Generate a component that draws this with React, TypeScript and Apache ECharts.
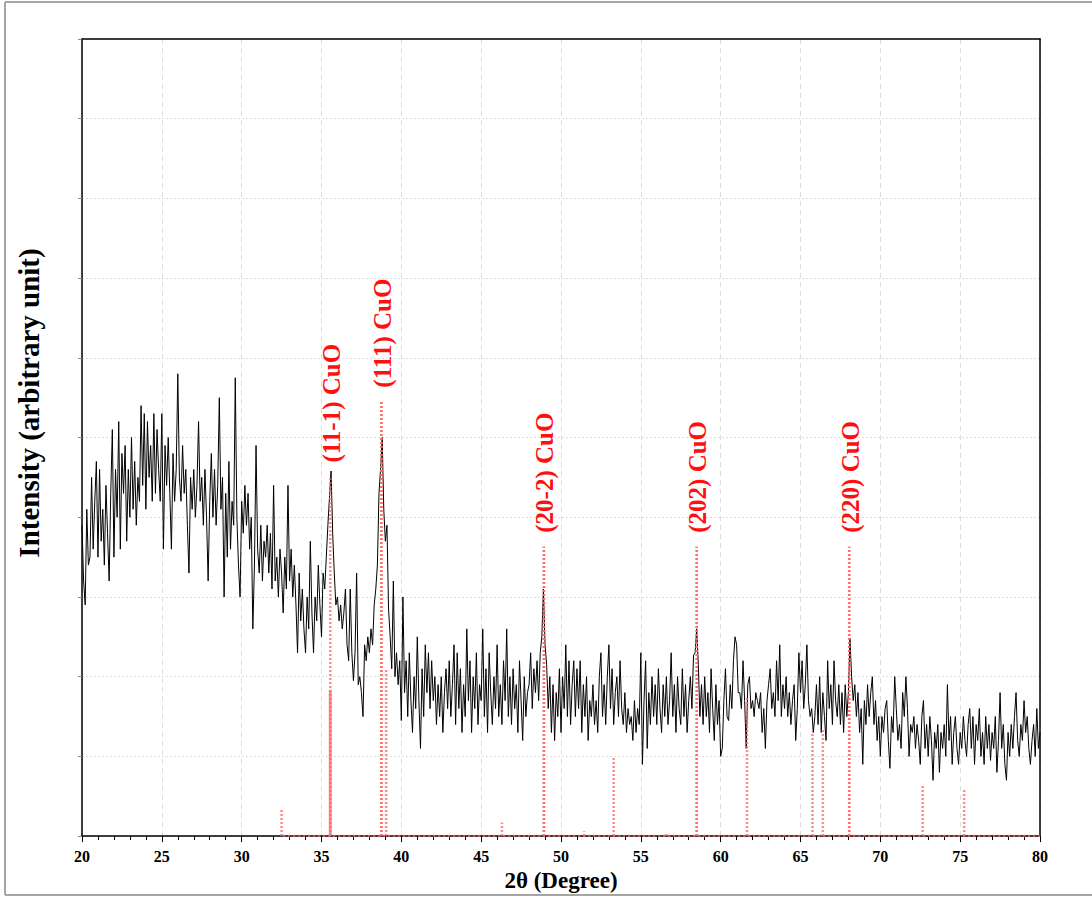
import { useEffect, useRef } from "react";
import * as echarts from "echarts";

// Diffractogram sampled from 20° to 80° in 0.1° steps (arbitrary intensity units)
const TWO_THETA_START = 20;
const TWO_THETA_STEP = 0.1;

const intensity20s = [
  3.9, 3.2, 2.9, 4.1, 3.4, 3.5, 4.5, 3.6, 4.2, 4.7,
  3.5, 4.6, 3.7, 4.1, 3.4, 4.4, 3.8, 3.2, 4.3, 5.1,
  3.5, 4.6, 4.0, 5.2, 3.6, 4.8, 4.3, 4.9, 3.7, 4.6,
  4.0, 5.0, 4.1, 4.7, 3.9, 4.5, 4.2, 5.4, 4.4, 5.3,
  4.1, 5.2, 4.5, 4.9, 4.2, 5.3, 4.3, 5.1, 4.6, 4.2,
  5.3, 3.6, 4.9, 4.4, 5.0, 4.3, 3.6, 4.8, 4.2, 4.6,
  5.8, 4.5, 4.2, 4.9, 4.3, 4.6, 3.9, 3.3, 4.5, 4.1,
  4.6, 4.0, 4.4, 5.2, 4.2, 4.5, 3.9, 4.6, 4.0, 3.2,
  4.2, 4.8, 4.0, 4.6, 3.9, 4.4, 5.5, 4.1, 4.5, 3.0,
  4.3, 3.5, 4.7, 3.6, 4.2, 3.9, 5.75, 4.0, 3.4, 3.0,
];
const intensity30s = [
  4.2, 3.8, 4.4, 3.9, 4.3, 3.6, 4.0, 2.6, 3.4, 4.9,
  3.6, 3.3, 3.9, 3.2, 3.7, 3.5, 3.9, 3.3, 3.8, 3.1,
  4.4, 3.2, 3.5, 3.0, 3.6, 3.3, 2.8, 3.5, 3.1, 4.4,
  3.2, 3.6, 3.0, 3.4, 2.9, 2.3, 3.3, 2.7, 3.1, 2.6,
  2.3, 3.0, 2.6, 3.7, 2.8, 2.3, 3.0, 2.7, 3.4, 2.9,
  2.5, 3.3, 3.1, 3.5, 3.9, 4.25, 4.58, 3.8, 3.3, 2.9,
  3.0, 2.7, 2.9, 2.6, 2.8, 3.1, 2.4, 2.2, 3.1, 2.3,
  1.95, 2.3, 3.3, 1.9, 2.0, 1.8, 1.5, 2.4, 2.2, 2.5,
  2.3, 2.6, 2.4, 2.9, 3.1, 3.4, 4.3, 4.6, 5.0, 4.1,
  3.7, 3.9, 2.85, 2.5, 2.1, 3.2, 2.0, 2.3, 1.9, 2.2,
];
const intensity40s = [
  1.45, 3.0, 1.8, 2.2, 1.5, 2.3, 1.7, 1.3, 2.0, 1.6,
  2.5, 1.7, 1.1, 2.1, 1.5, 2.4, 1.8, 2.3, 1.6, 2.2,
  1.7, 2.0, 1.4, 1.9, 1.5, 2.0, 1.3, 1.8, 2.1, 1.6,
  2.2, 1.5, 1.9, 2.4, 1.4, 2.3, 1.6, 2.1, 1.3, 1.9,
  1.5, 2.6, 1.7, 2.2, 1.3, 2.0, 1.6, 2.3, 1.4, 1.9,
  1.7, 2.6, 1.5, 2.1, 1.3, 2.3, 1.8, 1.4, 2.0, 1.6,
  2.4, 1.5, 1.9, 1.4, 2.2, 1.7, 2.6, 1.5, 2.0, 1.4,
  2.1, 1.6, 1.9, 1.3, 2.2, 1.7, 1.2, 2.0, 1.5, 1.8,
  1.9, 2.3, 1.6, 2.1, 1.8, 2.2, 1.7, 2.3, 2.5, 3.1,
  2.4, 2.15, 1.6, 2.0, 1.3, 1.9, 1.2, 1.8, 1.5, 2.1,
];
const intensity50s = [
  1.3, 2.0, 1.6, 2.4, 1.5, 2.2, 1.4, 1.9, 2.2, 1.5,
  2.1, 1.6, 2.2, 1.3, 1.9, 1.5, 2.0, 1.2, 1.7, 1.5,
  1.9, 1.4, 1.7, 1.3, 2.0, 2.3, 1.5, 1.9, 1.4, 2.0,
  2.4, 1.6, 2.1, 1.4, 1.8, 2.0, 1.5, 2.2, 1.6, 1.4,
  1.8, 1.3, 1.6, 1.4, 1.5, 1.2, 1.7, 1.3, 1.6, 1.4,
  2.3, 0.9, 1.7, 2.2, 1.1, 1.8, 1.4, 2.0, 1.5, 1.9,
  1.4, 2.1, 1.6, 1.3, 1.9, 1.5, 2.0, 1.4, 1.7, 2.3,
  1.5, 1.9, 1.3, 2.0, 1.6, 1.4, 2.1, 1.5, 1.9, 1.3,
  1.7, 2.0, 1.6, 2.27, 2.3, 2.6, 2.15, 1.5, 1.9, 1.4,
  2.0, 1.5, 1.8, 1.3, 2.1, 1.6, 1.2, 1.9, 1.4, 1.7,
];
const intensity60s = [
  1.0, 1.1, 1.7, 2.1, 1.5, 1.45, 1.9, 1.6, 2.2, 2.5,
  2.4, 1.8, 1.8, 1.6, 2.2, 1.7, 1.1, 1.9, 2.0, 1.6,
  1.7, 1.5, 1.8, 1.7, 1.6, 1.8, 1.3, 1.6, 1.1, 1.7,
  1.9, 2.1, 1.6, 1.8, 1.5, 2.2, 1.7, 2.4, 1.5, 1.9,
  1.6, 2.0, 1.5, 1.8, 1.4, 1.7, 1.9, 1.2, 1.6, 2.3,
  1.8, 2.2, 1.6, 1.9, 2.4, 1.7, 1.5, 1.6, 1.3, 1.5,
  1.9, 1.4, 2.0, 1.3, 1.8, 1.5, 1.2, 2.2, 1.6, 1.9,
  1.4, 2.2, 1.7, 1.5, 1.9, 1.4, 1.8, 1.3, 1.9, 1.5,
  1.8, 2.48, 2.0, 1.7, 1.9, 1.5, 1.8, 1.3, 1.6, 0.9,
  1.7, 1.4, 1.9, 1.5, 1.8, 2.0, 1.4, 1.7, 1.2, 1.5,
];
const intensity70s = [
  1.0, 1.5, 1.3, 1.6, 1.7, 1.2, 0.85, 1.5, 1.3, 2.0,
  1.6, 1.2, 1.4, 1.1, 1.8, 1.5, 2.0, 1.6, 1.0, 1.4,
  1.3, 1.5, 1.1, 1.4, 1.2, 0.9, 1.5, 1.7, 1.1, 1.4,
  1.0, 1.5, 1.2, 0.7, 1.3, 1.1, 1.4, 0.8, 1.3, 1.1,
  1.4, 1.0, 1.9, 1.2, 1.5, 0.9, 1.3, 1.5, 1.1, 0.9,
  1.3, 1.1, 1.5, 1.2, 1.0, 1.4, 1.6, 1.1, 1.5, 0.9,
  1.4, 1.2, 1.6, 1.0, 1.3, 0.9, 1.5, 1.1, 1.4, 0.95,
  1.3, 1.1, 1.5, 0.8, 1.2, 1.8, 1.1, 1.4, 0.9, 0.7,
  1.3, 1.0, 1.4, 1.1, 1.5, 1.8, 1.2, 1.0, 1.4, 1.2,
  1.7, 1.3, 1.5, 1.1, 0.9, 1.2, 1.4, 1.0, 1.6, 1.1,
  1.3,
];

// CuO reference pattern: stick positions (2θ) and relative heights
const refPositions = [32.5, 35.55, 38.75, 39.05, 46.3, 48.93, 51.45, 53.3, 56.6, 58.5, 61.65, 65.75, 66.4, 68.05, 72.65, 75.25];
const refHeights = [0.35, 1.83, 5.45, 2.1, 0.17, 3.63, 0.06, 1.0, 0.05, 3.63, 1.76, 1.3, 1.35, 3.63, 0.64, 0.58];
const refSolidPositions = [35.55];
const refBaselineRange = [32.6, 80];

// Indexed CuO reflections
const peakPositions = [35.55, 38.75, 48.93, 58.5, 68.05];
const peakLeaderTops = [4.51, 5.45, 3.63, 3.63, 3.63];
const peakLabels = ["(11-1) CuO", "(111) CuO", "(20-2) CuO", "(202) CuO", "(220) CuO"];

const xTickMin = 20;
const xTickMax = 80;
const xTickStep = 5;

const FONT = "'Liberation Serif', 'Times New Roman', serif";
const REF_RED = "rgba(255, 100, 100, 0.75)";

export default function App() {
  const ref = useRef<HTMLDivElement>(null);

  useEffect(() => {
    if (!ref.current) return;
    const chart = echarts.init(ref.current, null, { renderer: "svg" });

    const intensity = [
      ...intensity20s,
      ...intensity30s,
      ...intensity40s,
      ...intensity50s,
      ...intensity60s,
      ...intensity70s,
    ];
    const scan = intensity.map((v, i) => [
      +(TWO_THETA_START + i * TWO_THETA_STEP).toFixed(2),
      v,
    ]);

    const frameAxis = {
      axisLine: { show: true, onZero: false, lineStyle: { color: "#000", width: 1.5 } },
      axisTick: { show: false },
      axisLabel: { show: false },
      splitLine: { show: false },
    };

    chart.setOption({
      animation: false,
      backgroundColor: "#ffffff",
      grid: {
        left: 82,
        top: 39,
        right: 52,
        bottom: 59,
      },
      xAxis: [
        {
          type: "value",
          min: xTickMin,
          max: xTickMax,
          interval: xTickStep,
          name: "2θ (Degree)",
          nameLocation: "middle",
          nameGap: 31,
          nameTextStyle: { fontFamily: FONT, fontWeight: "bold", fontSize: 23, color: "#000" },
          axisLine: { show: true, onZero: false, lineStyle: { color: "#000", width: 1.5 } },
          axisTick: { show: true, length: 6, lineStyle: { color: "#000", width: 1 } },
          minorTick: { show: true, splitNumber: 5, length: 4, lineStyle: { color: "#000", width: 1 } },
          axisLabel: {
            margin: 12,
            color: "#000",
            fontFamily: FONT,
            fontWeight: "bold",
            fontSize: 16,
            showMinLabel: true,
            showMaxLabel: true,
          },
          splitLine: { show: true, lineStyle: { color: "#dddddd", width: 1, type: [5, 4] } },
        },
        {
          type: "value",
          position: "top",
          min: xTickMin,
          max: xTickMax,
          interval: xTickStep,
          ...frameAxis,
        },
      ],
      yAxis: [
        {
          type: "value",
          min: 0,
          max: 10,
          interval: 1,
          axisLine: { show: true, onZero: false, lineStyle: { color: "#000", width: 1.5 } },
          axisTick: { show: true, length: 4, lineStyle: { color: "#888" } },
          axisLabel: { show: false },
          splitLine: { show: true, lineStyle: { color: "#dddddd", width: 1, type: [2, 2] } },
        },
        {
          type: "value",
          position: "right",
          min: 0,
          max: 10,
          interval: 1,
          ...frameAxis,
        },
      ],
      graphic: [
        {
          type: "line",
          shape: { x1: 5, y1: 2, x2: 1092, y2: 2 },
          style: { stroke: "#a6a6a6", lineWidth: 2 },
        },
        {
          type: "line",
          shape: { x1: 5, y1: 2, x2: 5, y2: 895 },
          style: { stroke: "#a6a6a6", lineWidth: 2 },
        },
        {
          type: "line",
          shape: { x1: 5, y1: 895, x2: 1092, y2: 895 },
          style: { stroke: "#a6a6a6", lineWidth: 2 },
        },
        {
          type: "text",
          x: 29,
          y: 403,
          rotation: Math.PI / 2,
          style: {
            text: "Intensity (arbitrary unit)",
            fontFamily: FONT,
            fontWeight: "bold",
            fontSize: 29,
            fill: "#000",
            align: "center",
            verticalAlign: "middle",
          },
        },
      ],
      series: [
        {
          name: "scan",
          type: "line",
          data: scan,
          showSymbol: false,
          symbol: "none",
          z: 3,
          lineStyle: { color: "#000", width: 1 },
        },
        {
          name: "reference",
          type: "custom",
          z: 4,
          data: refPositions.map((p, i) => [p, refHeights[i]]),
          renderItem: (_params: any, api: any) => {
            const x = api.value(0);
            const h = api.value(1);
            const p0 = api.coord([x, 0]);
            const p1 = api.coord([x, h]);
            const solid = refSolidPositions.includes(x);
            return {
              type: "line",
              shape: { x1: p0[0], y1: p0[1], x2: p1[0], y2: p1[1] },
              style: {
                stroke: REF_RED,
                lineWidth: solid ? 3 : 2.5,
                lineDash: solid ? null : [2, 2],
              },
            };
          },
        },
        {
          name: "reference baseline",
          type: "line",
          data: refBaselineRange.map((x) => [x, 0]),
          symbol: "none",
          z: 4,
          lineStyle: { color: REF_RED, width: 2.5, type: [2, 3] },
        },
        {
          name: "indexed peaks",
          type: "custom",
          z: 5,
          data: peakPositions.map((p, i) => [p, peakLeaderTops[i], i]),
          renderItem: (_params: any, api: any) => {
            const x = api.value(0);
            const top = api.value(1);
            const idx = api.value(2);
            const p0 = api.coord([x, 0]);
            const p1 = api.coord([x, top]);
            return {
              type: "group",
              children: [
                {
                  type: "line",
                  shape: { x1: p0[0], y1: p0[1], x2: p1[0], y2: p1[1] },
                  style: { stroke: REF_RED, lineWidth: 2.5, lineDash: [2, 2] },
                },
                {
                  type: "text",
                  x: p1[0] + 1,
                  y: p1[1] - 14,
                  rotation: Math.PI / 2,
                  style: {
                    text: peakLabels[idx],
                    fontFamily: FONT,
                    fontWeight: "bold",
                    fontSize: 25,
                    fill: "#ff1010",
                    align: "left",
                    verticalAlign: "middle",
                  },
                },
              ],
            };
          },
        },
      ],
    });

    return () => chart.dispose();
  }, []);

  return (
    <div
      ref={ref}
      style={{ position: "absolute", left: 0, top: 0, width: 1092, height: 897, background: "#fff" }}
    />
  );
}
